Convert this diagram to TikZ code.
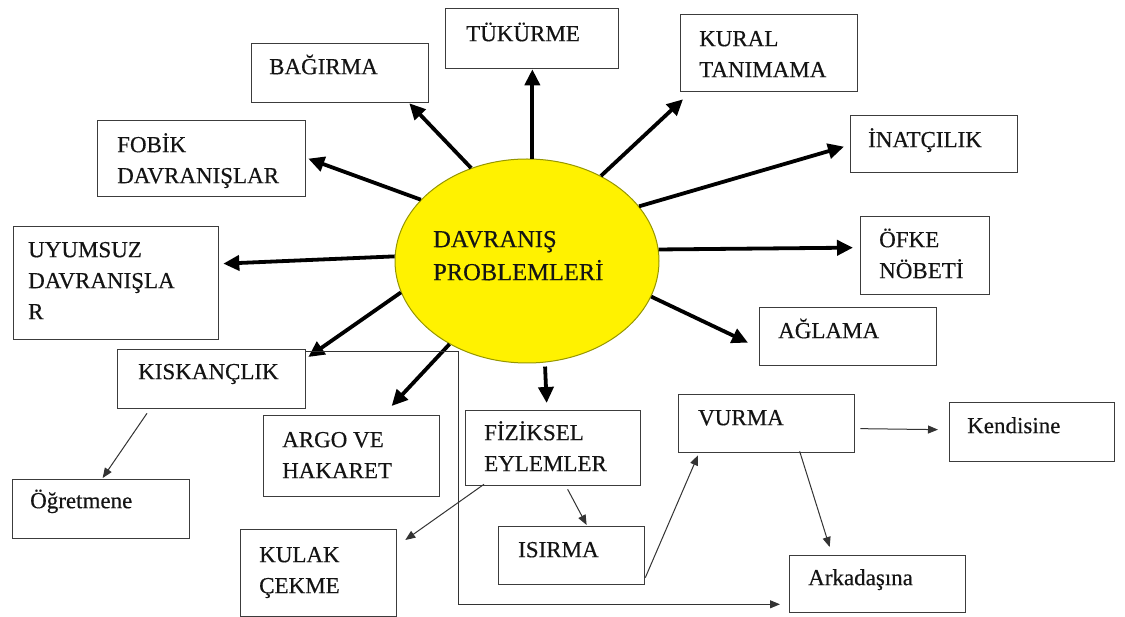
\documentclass[tikz,border=0pt]{standalone}
\usepackage{fontspec}
\setmainfont{Liberation Serif}
\newfontfamily\diafont{Liberation Serif}[FakeBold=0.4]
\usetikzlibrary{arrows.meta,calc,shapes.geometric}
\definecolor{boxline}{RGB}{60,60,60}
\definecolor{elline}{RGB}{150,150,0}
\definecolor{txtcol}{RGB}{20,20,20}
\tikzset{
  box/.style={draw=boxline,line width=1.3pt,rectangle,inner sep=0pt,anchor=north west},
  txt/.style={inner sep=0pt,anchor=north west,align=left,text=txtcol,font=\diafont\fontsize{23}{31}\selectfont},
  etxt/.style={inner sep=0pt,anchor=north west,align=left,text=txtcol,font=\diafont\fontsize{24.5}{33}\selectfont},
  bigarrow/.style={line width=3.8pt,-{Triangle[length=16pt,width=15pt]}},
  thinarrow/.style={draw=black!80,line width=1pt,-{Triangle[length=10pt,width=8pt]}},
}
\newcommand{\bx}[5]{\node[box,minimum width=#4pt-#2pt,minimum height=#5pt-#3pt] (#1) at (#2,#3) {};}
\begin{document}
\begin{tikzpicture}[x=1pt,y=-1pt]
\fill[white] (0,0) rectangle (1125,617);
\useasboundingbox (0,0) rectangle (1125,617);

% central ellipse
\node[ellipse,draw=elline,line width=1pt,fill=yellow,minimum width=264pt,minimum height=204pt,inner sep=0pt] (ell) at (527,261) {};
\node[etxt] (ellt) at (433,223.9) {\strut DAVRANIŞ\\PROBLEMLERİ};

% boxes
\bx{tuk}{445}{8}{618}{68}
\bx{bag}{251}{43}{428}{102}
\bx{kur}{680}{14}{857}{91}
\bx{fob}{97}{120}{305}{196}
\bx{ina}{850}{115}{1017}{172}
\bx{uyu}{13}{226}{218}{339}
\bx{ofk}{860}{216}{989}{294}
\bx{agl}{759}{307}{936}{365}
\bx{kis}{117}{349}{305}{408}
\bx{arg}{263}{415}{439}{496}
\bx{fiz}{465}{410}{640}{485}
\bx{vur}{678}{394}{854}{452}
\bx{ken}{949}{402}{1114}{461}
\bx{ogr}{12}{479}{189}{538}
\bx{kul}{240}{529}{396}{616}
\bx{isi}{498}{526}{644}{584}
\bx{ark}{789}{555}{965}{612}

% texts
\node[txt] (tukt) at (466,19.3) {\strut TÜKÜRME};
\node[txt] (bagt) at (269,52.3) {\strut BAĞIRMA};
\node[txt] (kurt) at (699,24.3) {\strut KURAL\\TANIMAMA};
\node[txt] (fobt) at (117,130.3) {\strut FOBİK\\DAVRANIŞLAR};
\node[txt] (inat) at (868,125.3) {\strut İNATÇILIK};
\node[txt] (uyut) at (28,235.3) {\strut UYUMSUZ\\DAVRANIŞLA\\R};
\node[txt] (ofkt) at (879,225.3) {\strut ÖFKE\\NÖBETİ};
\node[txt] (aglt) at (778,316.3) {\strut AĞLAMA};
\node[txt] (kist) at (138,357.3) {\strut KISKANÇLIK};
\node[txt] (argt) at (282,425.3) {\strut ARGO VE\\HAKARET};
\node[txt] (fizt) at (484,418.3) {\strut FİZİKSEL\\EYLEMLER};
\node[txt] (vurt) at (698,403.3) {\strut VURMA};
\node[txt] (kent) at (967,411.3) {\strut Kendisine};
\node[txt] (ogrt) at (30,486.3) {\strut Öğretmene};
\node[txt] (kult) at (259,540.3) {\strut KULAK\\ÇEKME};
\node[txt] (isit) at (518,535.3) {\strut ISIRMA};
\node[txt] (arkt) at (808,563.3) {\strut Arkadaşına};

% thick arrows from the ellipse
\draw[bigarrow] (ell.87) -- (ell.87 |- tuk.south);
\draw[bigarrow] (ell.121) -- ($(bag.south east)+(-20,0)$);
\draw[bigarrow] (ell.49) -- ($(kur.south west)+(3,7)$);
\draw[bigarrow] (ell.26) -- ($(ina.west)+(-6,2.5)$);
\draw[bigarrow] (ell.5.7) -- ($(ofk.west)+(-7,-8)$);
\draw[bigarrow] (ell.-16.6) -- ($(agl.west)+(-11,6)$);
\draw[bigarrow] (ell.150) -- ($(fob.east)+(2,0)$);
\draw[bigarrow] (ell.178) -- ($(uyu.east)+(4,-19.5)$);
\draw[bigarrow] (ell.194) -- ($(kis.north east)+(2,8)$);
\draw[bigarrow] (ell.227) -- ($(arg.north)+(40,-9)$);
\draw[bigarrow,shorten <=4pt] (ell.280) -- ($(fiz.north)+(-6.5,-7)$);

% thin arrows
\draw[thinarrow] ($(kis.south west)+(30,4)$) -- ($(ogr.north)+(1.5,-1)$);
\draw[thinarrow] ($(fiz.south west)+(19,-2)$) -- ($(kul.north east)+(8,11)$);
\draw[thinarrow] ($(fiz.south)+(14.5,3)$) -- ($(isi.north)+(15,-1)$);
\draw[thinarrow] ($(isi.east)+(0,22)$) -- ($(vur.south west)+(20,2)$);
\draw[thinarrow] ($(vur.east)+(5,5)$) -- ($(ken.west)+(-11,-2.5)$);
\draw[thinarrow] ($(vur.south)+(33,-2)$) -- ($(ark.north)+(-48,-8)$);
\draw[thinarrow] ($(kis.north east)+(0,3)$) -- ++(152,0) |- ($(ark.south west)+(-9,-9)$);
\end{tikzpicture}
\end{document}
